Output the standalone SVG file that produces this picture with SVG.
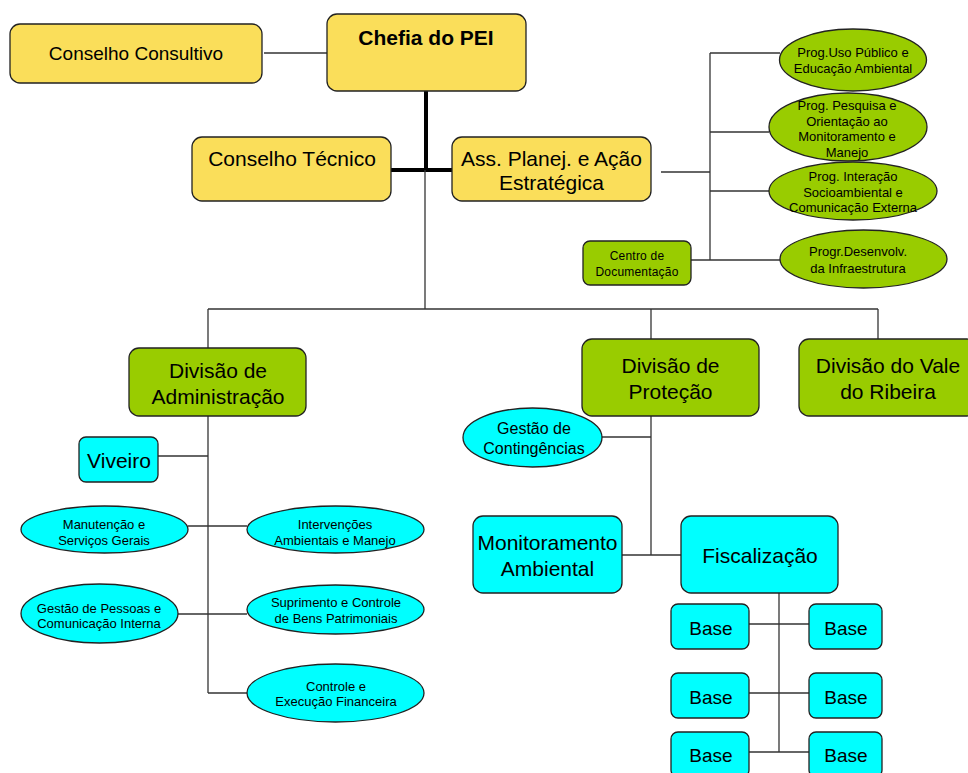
<svg xmlns="http://www.w3.org/2000/svg" width="968" height="773" viewBox="0 0 968 773">
<style>
  text { font-family: "Liberation Sans", Arial, sans-serif; fill: #000; text-anchor: middle; }
  .y { fill: #FADE5A; stroke: #222; stroke-width: 1.3; }
  .g { fill: #99CC00; stroke: #222; stroke-width: 1.3; }
  .c { fill: #00FFFF; stroke: #222; stroke-width: 1.3; }
  .ln { fill: none; stroke: #333; stroke-width: 1.3; }
  .thick { fill: none; stroke: #000; stroke-width: 4; }
  .t21 { font-size: 21px; }
  .t19 { font-size: 19px; }
  .t13 { font-size: 13px; }
  .t12 { font-size: 12px; letter-spacing: 0.2px; }
  .t16 { font-size: 16px; }
</style>
<rect width="968" height="773" fill="#fff"/>

<g id="connectors">
  <line class="ln" x1="264" y1="53" x2="327" y2="53"/>
  <line class="thick" x1="426" y1="91" x2="426" y2="172"/>
  <line class="thick" x1="391" y1="170" x2="452" y2="170"/>
  <line class="ln" x1="425" y1="170" x2="425" y2="309"/>
  <line class="ln" x1="208" y1="309" x2="878" y2="309"/>
  <line class="ln" x1="208" y1="309" x2="208" y2="348"/>
  <line class="ln" x1="651" y1="309" x2="651" y2="339"/>
  <line class="ln" x1="878" y1="309" x2="878" y2="339"/>
  <!-- Ass. Planej. branch -->
  <line class="ln" x1="661" y1="172" x2="710" y2="172"/>
  <line class="ln" x1="710" y1="53" x2="710" y2="260"/>
  <line class="ln" x1="710" y1="53" x2="780" y2="53"/>
  <line class="ln" x1="710" y1="132" x2="769" y2="132"/>
  <line class="ln" x1="710" y1="191" x2="769" y2="191"/>
  <line class="ln" x1="691" y1="260" x2="780" y2="260"/>
  <!-- Administração branch -->
  <line class="ln" x1="208" y1="416" x2="208" y2="693"/>
  <line class="ln" x1="158" y1="456" x2="208" y2="456"/>
  <line class="ln" x1="188" y1="526" x2="247" y2="526"/>
  <line class="ln" x1="178" y1="614" x2="247" y2="614"/>
  <line class="ln" x1="208" y1="693" x2="247" y2="693"/>
  <!-- Proteção branch -->
  <line class="ln" x1="651" y1="416" x2="651" y2="555"/>
  <line class="ln" x1="602" y1="437" x2="651" y2="437"/>
  <line class="ln" x1="622" y1="555" x2="681" y2="555"/>
  <line class="ln" x1="779" y1="593" x2="779" y2="752"/>
  <line class="ln" x1="749" y1="624" x2="809" y2="624"/>
  <line class="ln" x1="749" y1="693" x2="809" y2="693"/>
  <line class="ln" x1="749" y1="752" x2="809" y2="752"/>
</g>

<g id="conselho-consultivo">
  <rect class="y" x="10" y="24" width="252" height="59" rx="10"/>
  <text class="t19" x="136" y="60">Conselho Consultivo</text>
</g>
<g id="chefia">
  <rect class="y" x="327" y="14" width="199" height="77" rx="10"/>
  <text class="t21" x="426" y="45" font-weight="bold">Chefia do PEI</text>
</g>
<g id="conselho-tecnico">
  <rect class="y" x="192" y="137" width="199" height="64" rx="10"/>
  <text class="t21" x="292" y="166">Conselho Técnico</text>
</g>
<g id="ass-planej">
  <rect class="y" x="452" y="137" width="199" height="64" rx="10"/>
  <text class="t21" x="551.5" y="166">Ass. Planej. e Ação</text>
  <text class="t21" x="551.5" y="190">Estratégica</text>
</g>

<g id="prog-uso">
  <ellipse class="g" cx="853" cy="60" rx="73.5" ry="31"/>
  <text class="t13" x="853" y="56.5">Prog.Uso Público e</text>
  <text class="t13" x="853" y="72.5">Educação Ambiental</text>
</g>
<g id="prog-pesquisa">
  <ellipse class="g" cx="848" cy="127" rx="79" ry="34"/>
  <text class="t13" x="847" y="109.5">Prog. Pesquisa e</text>
  <text class="t13" x="847" y="125.5">Orientação ao</text>
  <text class="t13" x="847" y="141">Monitoramento e</text>
  <text class="t13" x="847" y="156.5">Manejo</text>
</g>
<g id="prog-interacao">
  <ellipse class="g" cx="853" cy="191" rx="84" ry="29"/>
  <text class="t13" x="853" y="181">Prog. Interação</text>
  <text class="t13" x="853" y="196.5">Socioambiental e</text>
  <text class="t13" x="853" y="211.5">Comunicação Externa</text>
</g>
<g id="progr-desenvolv">
  <ellipse class="g" cx="863.5" cy="259" rx="83.5" ry="29"/>
  <text class="t13" x="858" y="256">Progr.Desenvolv.</text>
  <text class="t13" x="858" y="272.5">da Infraestrutura</text>
</g>
<g id="centro-documentacao">
  <rect class="g" x="583" y="241" width="108" height="44" rx="7"/>
  <text class="t12" x="637" y="260">Centro de</text>
  <text class="t12" x="637" y="276">Documentação</text>
</g>

<g id="div-administracao">
  <rect class="g" x="129" y="348" width="177" height="68" rx="10"/>
  <text class="t21" x="218" y="378">Divisão de</text>
  <text class="t21" x="218" y="404">Administração</text>
</g>
<g id="div-protecao">
  <rect class="g" x="582" y="339" width="177" height="77" rx="10"/>
  <text class="t21" x="670.5" y="373">Divisão de</text>
  <text class="t21" x="670.5" y="399">Proteção</text>
</g>
<g id="div-vale-ribeira">
  <rect class="g" x="799" y="339" width="178" height="77" rx="10"/>
  <text class="t21" x="888" y="373">Divisão do Vale</text>
  <text class="t21" x="888" y="399">do Ribeira</text>
</g>

<g id="viveiro">
  <rect class="c" x="79" y="437" width="79" height="45" rx="7"/>
  <text class="t21" x="119" y="468">Viveiro</text>
</g>
<g id="manutencao">
  <ellipse class="c" cx="104.5" cy="529.5" rx="83.5" ry="23.5"/>
  <text class="t13" x="104" y="529">Manutenção e</text>
  <text class="t13" x="104" y="544.5">Serviços Gerais</text>
</g>
<g id="intervencoes">
  <ellipse class="c" cx="335.5" cy="529.5" rx="88.5" ry="23.5"/>
  <text class="t13" x="335" y="529">Intervenções</text>
  <text class="t13" x="335" y="544.5">Ambientais e Manejo</text>
</g>
<g id="gestao-pessoas">
  <ellipse class="c" cx="99.5" cy="613.5" rx="78.5" ry="29.5"/>
  <text class="t13" x="99" y="612.5">Gestão de Pessoas e</text>
  <text class="t13" x="99" y="628">Comunicação Interna</text>
</g>
<g id="suprimento">
  <ellipse class="c" cx="335.5" cy="609.5" rx="88.5" ry="24.5"/>
  <text class="t13" x="336" y="607">Suprimento e Controle</text>
  <text class="t13" x="336" y="623">de Bens Patrimoniais</text>
</g>
<g id="controle-execucao">
  <ellipse class="c" cx="335.5" cy="693" rx="88.5" ry="29"/>
  <text class="t13" x="336" y="691">Controle e</text>
  <text class="t13" x="336" y="706">Execução Financeira</text>
</g>

<g id="gestao-contingencias">
  <ellipse class="c" cx="532.5" cy="437.5" rx="69.5" ry="29.5"/>
  <text class="t16" x="534" y="434">Gestão de</text>
  <text class="t16" x="534" y="453.5">Contingências</text>
</g>
<g id="monitoramento">
  <rect class="c" x="473" y="516" width="149" height="77" rx="10"/>
  <text class="t21" x="547.5" y="550">Monitoramento</text>
  <text class="t21" x="547.5" y="576">Ambiental</text>
</g>
<g id="fiscalizacao">
  <rect class="c" x="681" y="516" width="157" height="77" rx="10"/>
  <text class="t21" x="760" y="563">Fiscalização</text>
</g>

<g id="base-1">
  <rect class="c" x="671" y="604" width="78" height="45" rx="7"/>
  <text class="t19" x="711" y="635">Base</text>
</g>
<g id="base-2">
  <rect class="c" x="809" y="604" width="73" height="45" rx="7"/>
  <text class="t19" x="846" y="635">Base</text>
</g>
<g id="base-3">
  <rect class="c" x="671" y="673" width="78" height="45" rx="7"/>
  <text class="t19" x="711" y="704">Base</text>
</g>
<g id="base-4">
  <rect class="c" x="809" y="673" width="73" height="45" rx="7"/>
  <text class="t19" x="846" y="704">Base</text>
</g>
<g id="base-5">
  <rect class="c" x="671" y="732" width="78" height="45" rx="7"/>
  <text class="t19" x="711" y="762">Base</text>
</g>
<g id="base-6">
  <rect class="c" x="809" y="732" width="73" height="45" rx="7"/>
  <text class="t19" x="846" y="762">Base</text>
</g>
</svg>
